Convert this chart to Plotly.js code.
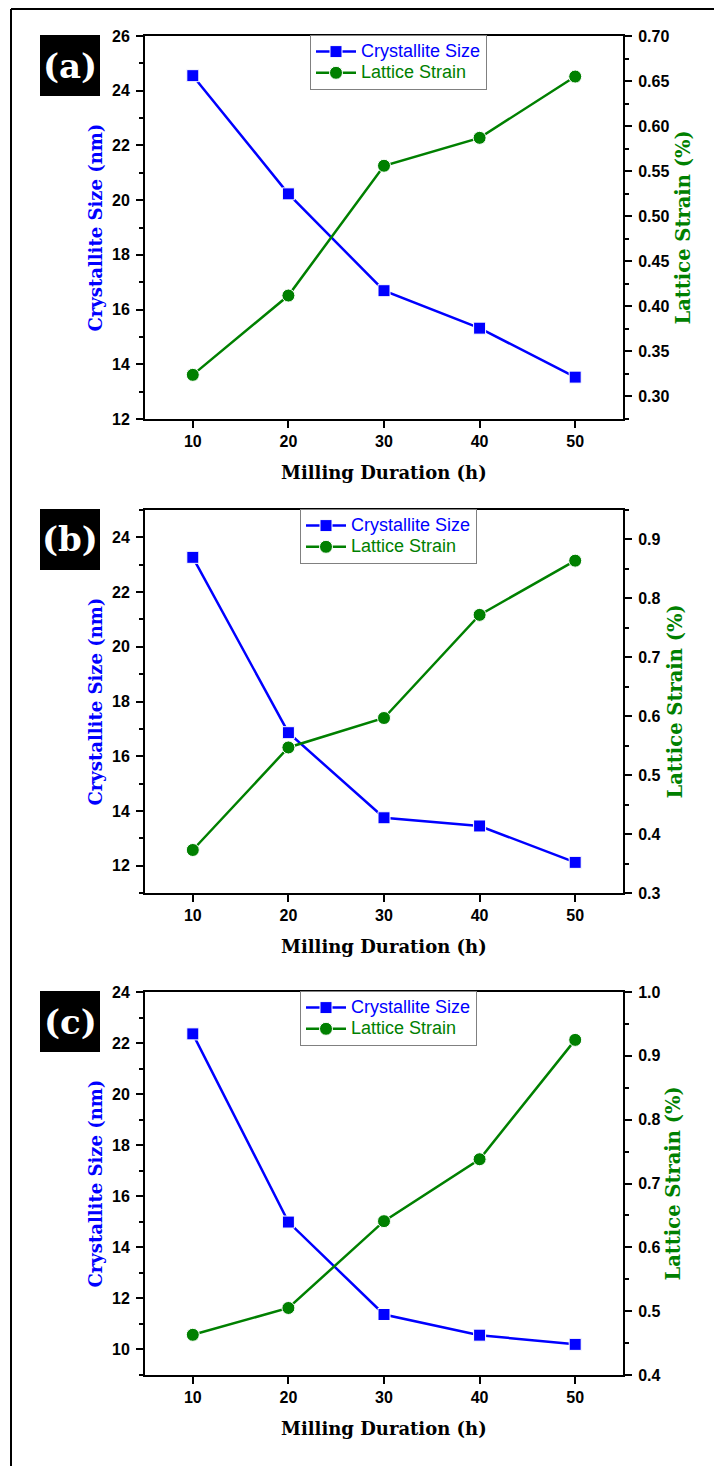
<!DOCTYPE html>
<html>
<head>
<meta charset="utf-8">
<script src="https://cdn.plot.ly/plotly-3.0.1.min.js"></script>
<style>
html,body{margin:0;padding:0;background:#fff;}
#chart{width:714px;height:1466px;}
</style>
</head>
<body>
<div id="chart"></div>
<script>
// ---- data ----
const millingHours = [10, 20, 30, 40, 50];
const sizeA = [24.55, 20.23, 16.69, 15.32, 13.53];
const strainA = [0.324, 0.412, 0.556, 0.587, 0.655];
const sizeB = [23.27, 16.86, 13.75, 13.45, 12.12];
const strainB = [0.373, 0.547, 0.597, 0.772, 0.864];
const sizeC = [22.36, 14.99, 11.37, 10.56, 10.20];
const strainC = [0.463, 0.505, 0.641, 0.738, 0.925];
const panelLabels = ["(a)", "(b)", "(c)"];
const xTitle = "Milling Duration (h)";
const yTitleLeft = "Crystallite Size (nm)";
const yTitleRight = "Lattice Strain (%)";
const sizeName = "Crystallite Size";
const strainName = "Lattice Strain";

// ---- layout helpers ----
const W = 714, H = 1466;
const px = v => v / W;
const py = v => 1 - v / H;
const BLUE = "#0000ff", GREEN = "#008000";
const tickFont = {family: "Liberation Sans, Arial, sans-serif", size: 16, weight: "bold", color: "#000"};
const titleFont = (c, s) => ({family: "DejaVu Serif, serif", size: s, weight: "bold", color: c});

const panels = [
  {size: sizeA, strain: strainA, top: 36, bot: 419, yl: [12, 26], yr: [0.275, 0.70], dl: 2, dr: 0.05, fmt: ".2f",
   legTop: 35, legLeft: 310, rTitleX: 683},
  {size: sizeB, strain: strainB, top: 510, bot: 893, yl: [11, 25], yr: [0.3, 0.95], dl: 2, dr: 0.1, fmt: ".1f",
   legTop: 509, legLeft: 300, rTitleX: 675},
  {size: sizeC, strain: strainC, top: 992, bot: 1375, yl: [9, 24], yr: [0.4, 1.0], dl: 2, dr: 0.1, fmt: ".1f",
   legTop: 991, legLeft: 300, rTitleX: 673}
];
const plotL = 145, plotR = 623;

const data = [];
const layout = {
  width: W, height: H,
  margin: {l: 0, r: 0, t: 0, b: 0},
  paper_bgcolor: "#ffffff",
  plot_bgcolor: "#ffffff",
  showlegend: true,
  annotations: [],
  shapes: [
    {type: "line", xref: "paper", yref: "paper", x0: px(11), x1: px(11), y0: py(9), y1: 0, line: {color: "#000", width: 2}},
    {type: "line", xref: "paper", yref: "paper", x0: px(11), x1: 1, y0: py(9), y1: py(9), line: {color: "#000", width: 2}}
  ]
};

const legName = (txt, c) => '<span style="color:' + c + ';font-size:18px">' + txt + '</span>';

panels.forEach((p, i) => {
  const n = i + 1;
  const xa = n === 1 ? "x" : "x" + n;
  const yl = "y" + (2 * n - 1 === 1 ? "" : (2 * n - 1));
  const yr = "y" + (2 * n);
  const legKey = n === 1 ? "legend" : "legend" + n;
  data.push({
    x: millingHours, y: p.size, xaxis: xa, yaxis: yl, legend: legKey,
    type: "scatter", mode: "lines+markers",
    name: legName(sizeName, BLUE),
    line: {color: BLUE, width: 2.5},
    marker: {symbol: "square", size: 12, color: BLUE, line: {color: "#fff", width: 1}}
  });
  data.push({
    x: millingHours, y: p.strain, xaxis: xa, yaxis: yr, legend: legKey,
    type: "scatter", mode: "lines+markers",
    name: legName(strainName, GREEN),
    line: {color: GREEN, width: 2.5},
    marker: {symbol: "circle", size: 13, color: GREEN, line: {color: "#fff", width: 1}}
  });
  const dom = [py(p.bot), py(p.top)];
  const xKey = n === 1 ? "xaxis" : "xaxis" + n;
  const ylKey = "yaxis" + (2 * n - 1 === 1 ? "" : (2 * n - 1));
  const yrKey = "yaxis" + (2 * n);
  layout[xKey] = {
    domain: [px(plotL), px(plotR)], anchor: yl, range: [5, 55],
    tickvals: millingHours, ticks: "outside", ticklen: 7, tickwidth: 2, tickcolor: "#000",
    showline: true, linewidth: 2, linecolor: "#000", mirror: true,
    showgrid: false, zeroline: false, tickfont: tickFont, ticklabelstandoff: 0
  };
  layout[ylKey] = {
    domain: dom, anchor: xa, range: p.yl, dtick: p.dl, tick0: 0,
    ticks: "outside", ticklen: 7, tickwidth: 2, tickcolor: "#000",
    minor: {ticks: "outside", ticklen: 4, tickwidth: 2, tickcolor: "#000", dtick: p.dl / 2},
    showline: true, linewidth: 2, linecolor: "#000",
    showgrid: false, zeroline: false, tickfont: tickFont, ticklabelstandoff: 3
  };
  layout[yrKey] = {
    domain: dom, anchor: xa, overlaying: yl, side: "right", range: p.yr, dtick: p.dr, tick0: 0,
    tickformat: p.fmt,
    ticks: "outside", ticklen: 7, tickwidth: 2, tickcolor: "#000",
    minor: {ticks: "outside", ticklen: 4, tickwidth: 2, tickcolor: "#000", dtick: p.dr / 2},
    showline: true, linewidth: 2, linecolor: "#000",
    showgrid: false, zeroline: false, tickfont: tickFont, ticklabelstandoff: 3
  };
  layout[legKey] = {
    x: px(p.legLeft), y: py(p.legTop), xanchor: "left", yanchor: "top",
    xref: "paper", yref: "paper",
    bgcolor: "#ffffff", bordercolor: "#808080", borderwidth: 1,
    font: {family: "Liberation Sans, Arial, sans-serif", size: 14, color: "#000"},
    itemwidth: 40, tracegroupgap: 0
  };
  // axis titles
  layout.annotations.push({
    xref: "paper", yref: "paper", x: px((plotL + plotR) / 2), y: py(p.bot + 53),
    text: xTitle, showarrow: false, xanchor: "center", yanchor: "middle", font: titleFont("#000", 18)
  });
  layout.annotations.push({
    xref: "paper", yref: "paper", x: px(95), y: py((p.top + p.bot) / 2),
    text: yTitleLeft, showarrow: false, textangle: -90, xanchor: "center", yanchor: "middle", font: titleFont(BLUE, 18)
  });
  layout.annotations.push({
    xref: "paper", yref: "paper", x: px(p.rTitleX), y: py((p.top + p.bot) / 2),
    text: yTitleRight, showarrow: false, textangle: -90, xanchor: "center", yanchor: "middle", font: titleFont(GREEN, 19.5)
  });
  // panel label box
  const bt = p.top - 1;
  layout.shapes.push({type: "rect", xref: "paper", yref: "paper", x0: px(40), x1: px(100), y0: py(bt), y1: py(bt + 61),
    fillcolor: "#000", line: {width: 0}});
  layout.annotations.push({
    xref: "paper", yref: "paper", x: px(70), y: py(bt + 30.5),
    text: panelLabels[i], showarrow: false, xanchor: "center", yanchor: "middle",
    font: {family: "DejaVu Serif, serif", size: 34, weight: "bold", color: "#fff"}
  });
});

Plotly.newPlot("chart", data, layout, {displayModeBar: false, staticPlot: true});
</script>
</body>
</html>
